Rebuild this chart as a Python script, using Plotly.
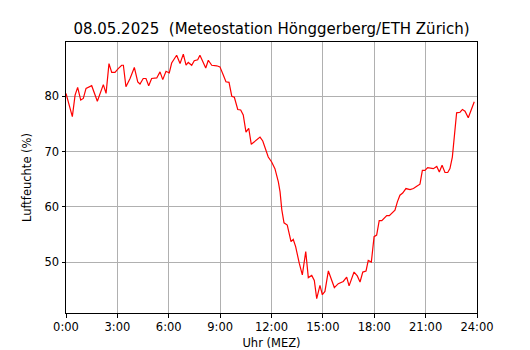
import plotly.graph_objects as go

hours = [0.00, 0.37, 0.53, 0.68, 0.86, 1.01, 1.17, 1.50, 1.83, 2.03, 2.18, 2.34, 2.51, 2.67,
         2.86, 3.05, 3.25, 3.35, 3.50, 3.74, 3.99, 4.19, 4.32, 4.51, 4.67, 4.83, 5.00, 5.30,
         5.49, 5.65, 5.84, 6.03, 6.17, 6.46, 6.66, 6.85, 7.01, 7.14, 7.34, 7.49, 7.69, 7.82,
         8.02, 8.16, 8.31, 8.51, 8.80, 8.99, 9.19, 9.34, 9.52, 9.68, 9.83, 10.03, 10.20, 10.35,
         10.51, 10.67, 10.82, 11.09, 11.33, 11.49, 11.68, 11.81, 12.01, 12.20, 12.40, 12.50,
         12.60, 12.73, 12.92, 13.14, 13.27, 13.41, 13.62, 13.80, 14.00, 14.15, 14.35, 14.50,
         14.64, 14.83, 14.97, 15.12, 15.32, 15.52, 15.67, 15.90, 16.19, 16.39, 16.53, 16.82,
         17.01, 17.17, 17.33, 17.52, 17.65, 17.83, 17.99, 18.14, 18.29, 18.44, 18.57, 18.73,
         18.88, 19.08, 19.21, 19.35, 19.50, 19.66, 19.85, 20.09, 20.29, 20.48, 20.67, 20.81,
         20.96, 21.12, 21.31, 21.45, 21.65, 21.80, 21.96, 22.13, 22.29, 22.42, 22.56, 22.67,
         22.81, 23.01, 23.15, 23.30, 23.49, 23.84]

humidity = [80.5, 76.3, 80.2, 81.6, 79.3, 79.6, 81.4, 81.9, 79.1, 80.8, 82.1, 80.5, 85.9, 84.3,
            84.3, 85.0, 85.6, 85.6, 81.7, 83.2, 85.2, 82.6, 82.2, 83.2, 83.2, 81.9, 83.2, 83.3,
            84.4, 83.0, 84.5, 84.2, 86.0, 87.4, 85.9, 87.6, 85.6, 86.1, 85.6, 86.4, 86.6, 87.4,
            86.2, 85.1, 86.5, 85.6, 85.5, 85.3, 83.8, 82.6, 82.5, 80.0, 79.8, 77.6, 77.5, 76.6,
            73.5, 74.2, 71.3, 71.9, 72.6, 71.9, 70.0, 69.0, 68.1, 66.9, 64.5, 62.7,
            59.5, 57.1, 56.7, 53.7, 54.1, 52.8, 49.8, 47.7, 51.9, 47.2, 47.6, 46.7,
            43.4, 45.8, 44.1, 44.7, 48.4, 46.7, 45.4, 46.1, 46.5, 47.3, 45.7, 48.2,
            47.5, 46.4, 48.2, 48.4, 50.3, 50.0, 54.6, 54.9, 57.5, 57.5, 57.9, 58.4,
            58.4, 59.1, 59.4, 60.9, 62.1, 62.5, 63.3, 63.1, 63.3, 63.7, 64.1, 66.6,
            66.6, 67.1, 67.0, 66.9, 67.3, 66.3, 67.5, 66.2, 66.2, 66.9, 69.0, 72.4,
            77.0, 77.1, 77.6, 77.3, 76.1, 79.0]

x_tickvals = [0, 3, 6, 9, 12, 15, 18, 21, 24]
x_ticktext = ["0:00", "3:00", "6:00", "9:00", "12:00", "15:00", "18:00", "21:00", "24:00"]
y_tickvals = [50, 60, 70, 80]

title_text = "08.05.2025  (Meteostation Hönggerberg/ETH Zürich)"

fig = go.Figure()
fig.add_trace(go.Scatter(x=hours, y=humidity, mode="lines",
                         line=dict(color="#ff0000", width=1.2), showlegend=False))

font_family = "DejaVu Sans"
fig.update_layout(
    width=530, height=350,
    margin=dict(l=58, r=61, t=34, b=45),
    paper_bgcolor="white", plot_bgcolor="white",
    font=dict(family=font_family, size=11.5, color="black"),
    title=dict(text=title_text, x=(66 - 8 + 477 - 8) / 2 / 530, xanchor="center",
               y=1 - 21 / 350, yanchor="middle",
               font=dict(family=font_family, size=15, color="black")),
)
fig.update_xaxes(
    range=[0, 24], tickvals=x_tickvals, ticktext=x_ticktext, automargin=False,
    showgrid=True, gridcolor="#b0b0b0", gridwidth=1,
    showline=True, linecolor="black", linewidth=1, mirror=True,
    ticks="outside", ticklen=3.5, tickcolor="black", zeroline=False,
    title=dict(text="Uhr (MEZ)", standoff=5, font=dict(size=11.5)),
)
fig.update_yaxes(
    range=[40.8, 89.8], tickvals=y_tickvals, automargin=False,
    showgrid=True, gridcolor="#b0b0b0", gridwidth=1,
    showline=True, linecolor="black", linewidth=1, mirror=True,
    ticks="outside", ticklen=3.5, tickcolor="black", zeroline=False,
    title=dict(text="Luftfeuchte (%)", standoff=10, font=dict(size=11.5)),
)

fig.write_html("out.html")
